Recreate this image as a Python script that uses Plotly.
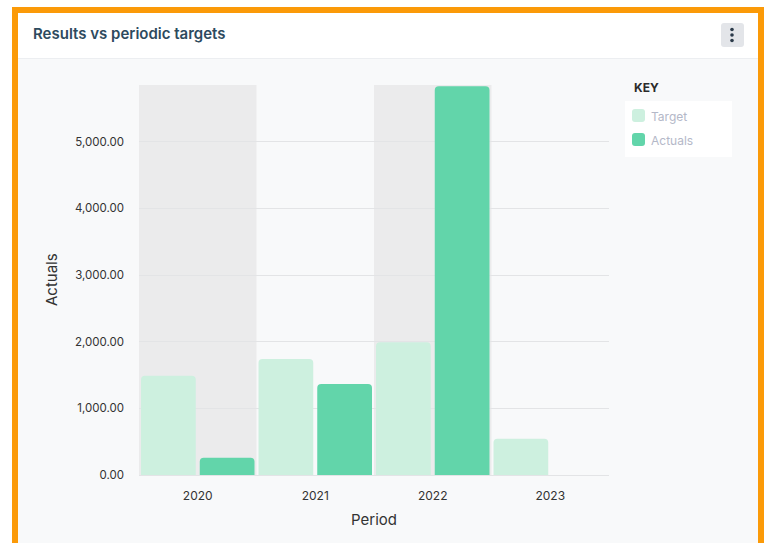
import plotly.graph_objects as go

# ---- data -------------------------------------------------------------
periods = ["2020", "2021", "2022", "2023"]
target = [1490, 1740, 1990, 545]
actuals = [260, 1365, 5830, None]
shaded_periods = ["2020", "2022"]
y_ticks = [0, 1000, 2000, 3000, 4000, 5000]

# ---- page geometry (pixels) -------------------------------------------
W, H = 764, 543
L, R, T, B = 139, 609, 85, 475

TARGET_COLOR = "#cdf0df"
ACTUAL_COLOR = "#62d5aa"
FONT = "Inter"


def px(x):
    return (x - L) / (R - L)


def py(y):
    return (B - y) / (B - T)


def rect(x0, y0, x1, y1, fill, layer="below"):
    return dict(type="rect", xref="paper", yref="paper",
                x0=px(x0), x1=px(x1), y0=py(y1), y1=py(y0),
                fillcolor=fill, line=dict(width=0), layer=layer)


def rounded(x0, y0, x1, y1, r, fill, layer="below"):
    X = lambda v: px(v)
    Y = lambda v: py(v)
    path = (f"M{X(x0 + r)},{Y(y0)} L{X(x1 - r)},{Y(y0)} "
            f"Q{X(x1)},{Y(y0)} {X(x1)},{Y(y0 + r)} "
            f"L{X(x1)},{Y(y1 - r)} Q{X(x1)},{Y(y1)} {X(x1 - r)},{Y(y1)} "
            f"L{X(x0 + r)},{Y(y1)} Q{X(x0)},{Y(y1)} {X(x0)},{Y(y1 - r)} "
            f"L{X(x0)},{Y(y0 + r)} Q{X(x0)},{Y(y0)} {X(x0 + r)},{Y(y0)} Z")
    return dict(type="path", xref="paper", yref="paper", path=path,
                fillcolor=fill, line=dict(width=0), layer=layer)


fig = go.Figure()
fig.add_trace(go.Bar(x=periods, y=target, name="Target",
                     marker=dict(color=TARGET_COLOR, line=dict(width=0))))
fig.add_trace(go.Bar(x=periods, y=actuals, name="Actuals",
                     marker=dict(color=ACTUAL_COLOR, line=dict(width=0))))

shapes = [
    # card frame, header and body
    rect(12, 7, 770, 560, "#fb9a08"),
    rect(18, 13, 758, 560, "#ffffff"),
    rect(18, 59, 758, 560, "#f8f9fa"),
    dict(type="line", xref="paper", yref="paper", x0=px(18), x1=px(758),
         y0=py(58.5), y1=py(58.5), line=dict(color="#eceef1", width=1),
         layer="below"),
    # menu button
    rounded(721, 23, 744, 47, 3, "#e3e5e9", layer="above"),
    # legend box and swatches
    rect(625, 101, 732, 157, "#ffffff"),
    rounded(632, 109, 645, 122, 3, TARGET_COLOR, layer="above"),
    rounded(632, 133, 645, 146, 3, ACTUAL_COLOR, layer="above"),
]
for cy in (29.5, 35, 40.5):
    shapes.append(dict(type="circle", xref="paper", yref="paper",
                       x0=px(730.2), x1=px(733.8), y0=py(cy + 1.8), y1=py(cy - 1.8),
                       fillcolor="#2b3a4a", line=dict(width=0), layer="above"))
# alternating period shading
for p in shaded_periods:
    i = periods.index(p)
    shapes.append(dict(type="rect", xref="x", yref="paper",
                       x0=i - 0.5, x1=i + 0.5, y0=0, y1=1,
                       fillcolor="#ebebec", line=dict(width=0), layer="below"))

annotations = [
    dict(text="Results vs periodic targets", x=px(31), y=py(33),
         xanchor="left", yanchor="middle",
         font=dict(family=FONT, size=15, color="#2d4a5e", weight=600)),
    dict(text="KEY", x=px(632), y=py(88), xanchor="left", yanchor="middle",
         font=dict(family=FONT, size=12, color="#2b2b2b", weight=700)),
    dict(text="Target", x=px(649), y=py(116), xanchor="left", yanchor="middle",
         font=dict(family=FONT, size=12, color="#b4b8c8")),
    dict(text="Actuals", x=px(649), y=py(140), xanchor="left", yanchor="middle",
         font=dict(family=FONT, size=12, color="#b4b8c8")),
    dict(text="Period", x=0.5, y=py(519), xanchor="center", yanchor="middle",
         font=dict(family=FONT, size=15, color="#333333")),
    dict(text="Actuals", x=px(51), y=0.5, xanchor="center", yanchor="middle",
         textangle=-90, font=dict(family=FONT, size=15, color="#333333")),
]
for a in annotations:
    a.update(xref="paper", yref="paper", showarrow=False)

fig.update_layout(
    width=W, height=H,
    margin=dict(l=L, r=W - R, t=T, b=H - B, autoexpand=False),
    paper_bgcolor="#ffffff",
    plot_bgcolor="rgba(0,0,0,0)",
    barmode="group",
    bargap=0.0,
    bargroupgap=0.068,
    barcornerradius=4,
    showlegend=False,
    shapes=shapes,
    annotations=annotations,
    font=dict(family=FONT, size=12, color="#333333"),
)
fig.update_xaxes(
    type="category", showgrid=False, showline=False, zeroline=False,
    ticks="", ticklabelstandoff=12,
    tickfont=dict(family=FONT, size=12, color="#333333"),
)
fig.update_yaxes(
    range=[0, 5850], tickvals=y_ticks, tickformat=",.2f",
    showgrid=True, gridcolor="#e3e4e6", gridwidth=1,
    zeroline=True, zerolinecolor="#e3e4e6", zerolinewidth=1,
    showline=False, ticks="", ticklabelstandoff=14,
    tickfont=dict(family=FONT, size=11.5, color="#333333"),
)

fig.write_html("out.html", config={"displayModeBar": False})
